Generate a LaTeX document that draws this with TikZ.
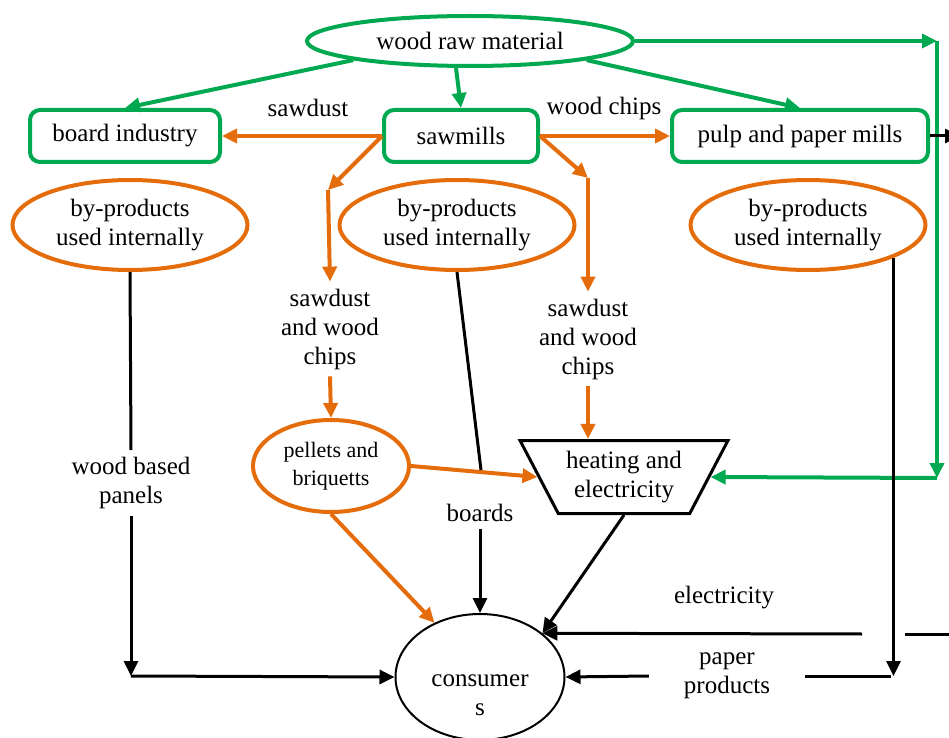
\documentclass[tikz,border=0pt]{standalone}
\usepackage{fontspec}
\setmainfont{Liberation Serif}
\usetikzlibrary{arrows.meta,shapes.geometric,positioning}
\definecolor{woodgreen}{RGB}{0,168,80}
\definecolor{chiporange}{RGB}{228,108,10}

\begin{document}
\begin{tikzpicture}[x=0.5pt, y=-0.5pt,
  every node/.style={font=\fontsize{12.5}{14.5}\selectfont, align=center},
  >={Triangle[length=7.5pt,width=7pt]},
  gline/.style={draw=woodgreen, line width=2pt},
  oline/.style={draw=chiporange, line width=2pt},
  kline/.style={draw=black, line width=1.5pt},
  mill/.style={draw=woodgreen, line width=2pt, rounded corners=5pt, minimum height=26pt},
  oval/.style={ellipse, draw=chiporange, line width=2pt, minimum width=117.5pt, minimum height=45pt, inner sep=0pt}]
% Frame
\useasboundingbox (0,0) rectangle (949,738);
\clip (0,0) rectangle (949,738);

% Sources
\node[ellipse, draw=woodgreen, line width=2pt, minimum width=163pt, minimum height=25pt] (raw) at (470,41) {wood raw material};
\node[mill, minimum width=95pt] (board) at (125,136) {board industry};
\node[mill, minimum width=77pt] (saw) at (461,136) {sawmills};
\node[mill, minimum width=128pt] (pulp) at (800,136) {pulp and paper mills};

% By-products
\node[oval] (bpl) at (130,225) {by-products\\used internally};
\node[oval] (bpm) at (457,225) {by-products\\used internally};
\node[oval] (bpr) at (808,225) {by-products\\used internally};

% Products
\node (sdl) at (330,329) {sawdust\\and wood\\chips};
\node (sdr) at (588,339) {sawdust\\and wood\\chips};
\node[ellipse, draw=chiporange, line width=2pt, minimum width=78pt, minimum height=46pt, inner sep=0pt, font=\fontsize{11}{14}\selectfont] (pel) at (331,466) {pellets and\\briquetts};
\node[trapezium, trapezium angle=60, shape border rotate=180, trapezium stretches=true, draw, line width=1.5pt, minimum width=104pt, minimum height=36.5pt] (heat) at (624,477) {heating and\\electricity};
\node[ellipse, draw, line width=1pt, minimum width=84.5pt, minimum height=63pt] (cons) at (480,677) {};
\node (constext) at (480,695) {consumer\\s};

% Labels
\node (sd) at (308,108) {sawdust};
\node (wc) at (604,108) {wood chips};
\node (wbp) at (131,483) {wood based\\panels};
\node (brd) at (480,513) {boards};
\node (elec) at (724,598) {electricity};
\node (pap) at (727,676) {paper\\products};

% Corners
\coordinate (g1) at (937,41);
\coordinate (g2) at (937,478);
\coordinate (o1) at (328,190);
\coordinate (o2) at (588,178);
\coordinate (k1) at (481,470);
\coordinate (k2) at (131,676);
\coordinate (e1) at (862,634);
\coordinate (e2) at (905,634);
\coordinate (e3) at (960,634);
\coordinate (p1) at (891,676);
\coordinate (p0) at (960,136);

% Green flows
\draw[gline,->] (raw.south west) -- (board.north);
\draw[gline,->] ([xshift=-7pt]raw.south) -- (saw.north);
\draw[gline,->] (raw.south east) -- (pulp.north);
\draw[gline,->] (raw.east) -- (g1);
\draw[gline,->] (g1) -- (g2);
\draw[gline,->] (g2) -- (heat.east);

% Orange flows
\draw[oline,->] (saw.west) -- (board.east);
\draw[oline,->] (saw.east) -- (pulp.west);
\draw[oline,->] (saw.west) -- (o1);
\draw[oline,->] (o1) -- (sdl.north);
\draw[oline,->] (sdl.south) -- (pel.north);
\draw[oline,->] (saw.east) -- (o2);
\draw[oline,->] (o2) -- (sdr.north);
\draw[oline,->] (sdr.south) -- (sdr.south |- heat.north);
\draw[oline,->] (pel.east) -- (heat.west);
\draw[oline,->] (pel.south) -- (cons.130);

% Black flows
\draw[kline] (bpl.south) -- (wbp.north);
\draw[kline,->] (wbp.south) -- (k2);
\draw[kline,->] (k2) -- (cons.west);
\draw[kline] (bpm.south) -- (k1);
\draw[kline,->] (brd.south) -- (cons.north);
\draw[kline,->] (heat.south) -- (cons.35);
\draw[kline,->] (e1) -- (cons.35);
\draw[kline] (e2) -- (e3);
\draw[kline,->] (bpr.-21) -- (bpr.-21 |- p1);
\draw[kline] (p1) -- ([xshift=14pt]pap.east);
\draw[kline,->] ([xshift=-14pt]pap.west) -- (cons.east);
\draw[kline,->] (pulp.east) -- (p0);

\end{tikzpicture}
\end{document}
